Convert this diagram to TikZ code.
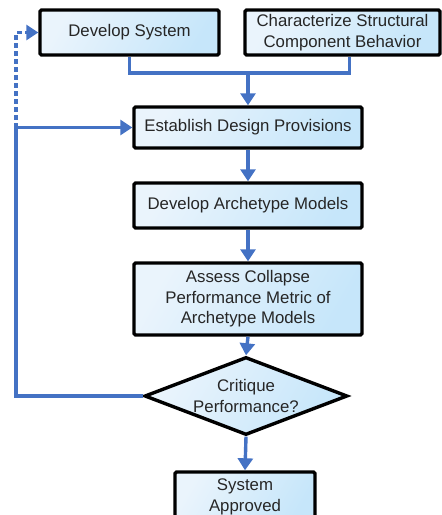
\documentclass[tikz,border=0pt]{standalone}
\usepackage{fontspec}
\setmainfont{Liberation Sans}
\usetikzlibrary{shapes.geometric,arrows.meta}

\definecolor{flowblue}{HTML}{4472C4}
\definecolor{boxlight}{HTML}{EAF4FC}
\definecolor{boxdark}{HTML}{C6E6FA}

\tikzset{
    stepbox/.style={draw=black,line width=3.4pt,rounded corners=1.5pt,
        shading=axis,left color=boxlight,right color=boxdark,shading angle=60,
        align=center,inner sep=0pt,text=black!85,
        font=\fontsize{16.8}{20.5}\selectfont},
    choice/.style={stepbox,diamond,rounded corners=0pt,aspect=2.6},
    flow/.style={draw=flowblue,line width=3.4pt},
    flowarrow/.style={flow,-{Triangle[length=12pt,width=15pt]}}
}

\begin{document}
\begin{tikzpicture}[x=1pt,y=-1pt]
    \useasboundingbox (0,0) rectangle (442,515);
    \clip (0,0) rectangle (442,515);

    % boxes
    \node[stepbox,minimum width=179pt,minimum height=45pt] (devsys) at (129.5,32.5) {Develop System};
    \node[stepbox,minimum width=195pt,minimum height=45pt] (charbeh) at (342.5,32.5) {Characterize Structural\\Component Behavior};
    \node[stepbox,minimum width=228pt,minimum height=41pt] (design) at (248,127.5) {Establish Design Provisions};
    \node[stepbox,minimum width=228pt,minimum height=45pt] (archmod) at (248,205.5) {Develop Archetype Models};
    \node[stepbox,minimum width=228pt,minimum height=72pt] (assess) at (248,299) {Assess Collapse\\Performance Metric of\\Archetype Models};
    \node[choice,minimum width=203pt,minimum height=78pt] (critique) at (246,396) {Critique\\Performance?};
    \node[stepbox,minimum width=140pt,minimum height=50pt] (approved) at (245,497) {System\\Approved};

    % junction points
    \coordinate (join) at (248,73);
    \coordinate (back) at (16,127.5);
    \coordinate (backtop) at (16,32.5);
    \coordinate (backlow) at (16,396);

    % connectors
    \draw[flow] (devsys.south) |- (join) -| ([xshift=7pt]charbeh.south);
    \draw[flowarrow] (join) -- (design.north);
    \draw[flowarrow] (design.south) -- (archmod.north);
    \draw[flowarrow] (archmod.south) -- (assess.north);
    \draw[flowarrow] (assess.south) -- (critique.north);
    \draw[flowarrow] (critique.south) -- (approved.north);
    \draw[flow] (critique.west) -- (backlow) -- (back);
    \draw[flowarrow] (back) -- (design.west);
    \draw[flowarrow,dash pattern=on 5pt off 3pt] (back) -- (backtop) -- (devsys.west);
\end{tikzpicture}
\end{document}
